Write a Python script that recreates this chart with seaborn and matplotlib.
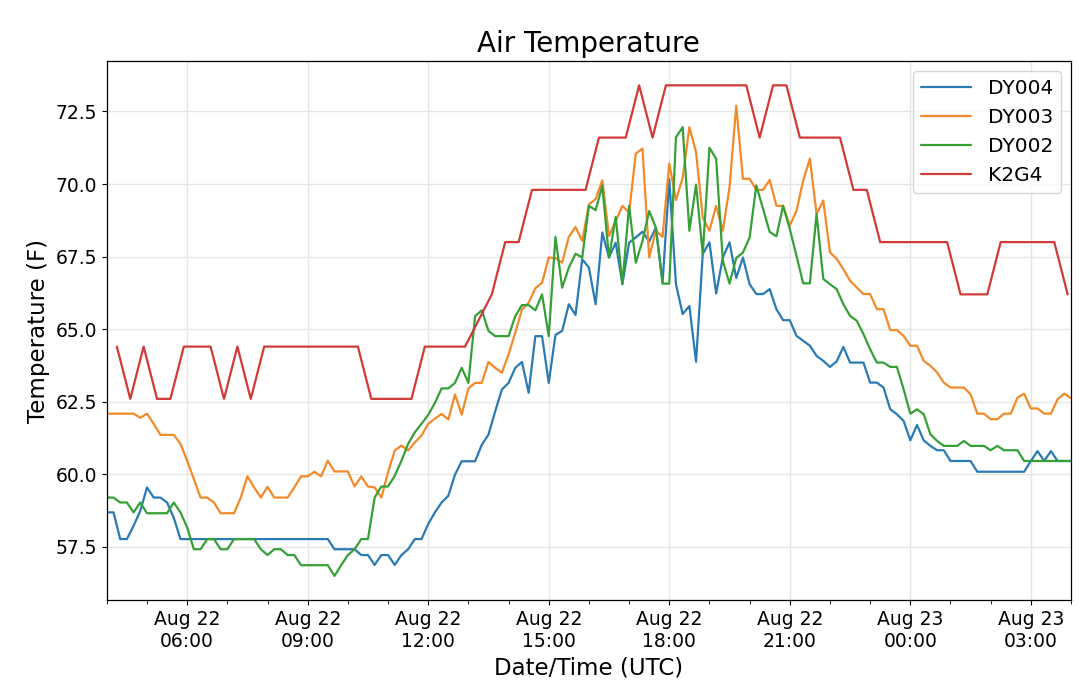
import pandas as pd
import matplotlib
matplotlib.use("Agg")
import matplotlib.pyplot as plt
import matplotlib.dates as mdates
import seaborn as sns

# Lecturas cada 10 minutos de las estaciones DY (04:00 -> 04:00 del dia siguiente)
dy_start = "2019-08-22 04:00"
dy004 = [58.69, 58.69, 57.77, 57.77, 58.23, 58.74, 59.55, 59.2, 59.2, 59.03, 58.5, 57.77] + [57.77] * 22 + [
    57.42, 57.42, 57.42, 57.42, 57.22, 57.22, 56.88, 57.22, 57.22, 56.88, 57.22, 57.42, 57.77, 57.77,
    58.29, 58.69, 59.03, 59.26, 59.99, 60.45, 60.45, 60.45, 61.02, 61.37, 62.17, 62.92, 63.15, 63.67,
    63.87, 62.81, 64.76, 64.76, 63.15, 64.8, 64.94, 65.86, 65.49, 67.41, 67.12, 65.86, 68.33, 67.47,
    67.98, 66.55, 67.98, 68.16, 68.36, 68.02, 68.5, 66.6, 70.17, 66.55, 65.52, 65.8, 63.88, 67.59,
    67.99, 66.23, 67.47, 67.99, 66.76, 67.47, 66.55, 66.21, 66.21, 66.38, 65.69, 65.31, 65.31, 64.77,
    64.6, 64.43, 64.08, 63.91, 63.7, 63.89, 64.39, 63.85, 63.85, 63.85, 63.16, 63.16, 62.99, 62.24,
    62.07, 61.84, 61.17, 61.7, 61.17, 60.98, 60.83, 60.83, 60.46, 60.46, 60.46, 60.46] + [60.09] * 8 + [
    60.46, 60.8, 60.46, 60.8, 60.46, 60.46, 60.46]
dy003 = [62.09, 62.09, 62.09, 62.09, 62.09, 61.95, 62.09, 61.74, 61.36, 61.36, 61.36, 61.05, 60.47,
         59.84, 59.2, 59.2, 59.03, 58.66, 58.66, 58.66, 59.2, 59.93, 59.55, 59.2, 59.57, 59.2, 59.2,
         59.2, 59.55, 59.93, 59.93, 60.09, 59.93, 60.47, 60.1, 60.1, 60.1, 59.58, 59.93, 59.58, 59.55,
         59.2, 60.07, 60.82, 60.99, 60.82, 61.1, 61.34, 61.74, 61.92, 62.08, 61.89, 62.75, 62.06, 62.96,
         63.15, 63.15, 63.87, 63.67, 63.5, 64.13, 64.88, 65.68, 65.91, 66.41, 66.6, 67.47, 67.45, 67.29,
         68.18, 68.52, 68.04, 69.3, 69.48, 70.13, 68.21, 68.72, 69.25, 69.02, 71.05, 71.22, 67.47, 68.39,
         68.18, 70.71, 69.45, 70.21, 71.96, 71.1, 68.85, 68.39, 69.25, 68.39, 69.89, 72.7, 70.18, 70.18,
         69.8, 69.8, 70.14, 69.25, 69.25, 68.57, 69.08, 70.12, 70.87, 68.97, 69.43, 67.65, 67.42, 67.07,
         66.67, 66.44, 66.21, 66.21, 65.69, 65.69, 64.97, 64.97, 64.77, 64.43, 64.43, 63.91, 63.74, 63.51,
         63.16, 62.99, 62.99, 62.99, 62.76, 62.09, 62.09, 61.9, 61.9, 62.09, 62.09, 62.64, 62.78, 62.27,
         62.27, 62.09, 62.09, 62.59, 62.78, 62.62]
dy002 = [59.2, 59.2, 59.03, 59.03, 58.69, 59.03, 58.66, 58.66, 58.66, 58.66, 59.03, 58.69, 58.17,
         57.42, 57.42, 57.77, 57.77, 57.42, 57.42, 57.77, 57.77, 57.77, 57.77, 57.42, 57.22, 57.42,
         57.42, 57.22, 57.22, 56.87, 56.87, 56.87, 56.87, 56.87, 56.5, 56.87, 57.22, 57.42, 57.77,
         57.77, 59.2, 59.58, 59.58, 59.95, 60.47, 61.05, 61.45, 61.74, 62.05, 62.46, 62.96, 62.96,
         63.15, 63.67, 63.15, 65.45, 65.65, 64.94, 64.76, 64.76, 64.76, 65.45, 65.83, 65.83, 65.65,
         66.2, 64.76, 68.18, 66.43, 67.12, 67.6, 67.47, 69.25, 69.1, 69.94, 67.47, 68.87, 66.57, 69.25,
         67.29, 68.04, 69.07, 68.5, 66.57, 66.57, 71.61, 71.96, 68.39, 69.98, 67.59, 71.25, 70.87,
         67.36, 66.57, 67.45, 67.64, 68.16, 69.95, 69.15, 68.35, 68.2, 69.25, 68.45, 67.53, 66.58,
         66.58, 68.97, 66.73, 66.55, 66.38, 65.86, 65.46, 65.29, 64.83, 64.31, 63.85, 63.85, 63.7,
         63.7, 62.93, 62.09, 62.24, 62.07, 61.38, 61.15, 60.98, 60.98, 60.98, 61.15, 60.98, 60.98,
         60.98, 60.83, 60.98, 60.83, 60.83, 60.83] + [60.46] * 8

# K2G4: observaciones cada 20 minutos (:15, :35, :55), falta la de las 13:15
k2g4_times = [t for t in pd.date_range("2019-08-22 04:15", periods=72, freq="20min")
              if t != pd.Timestamp("2019-08-22 13:15")]
k2g4 = [64.4, 62.6, 64.4, 62.6, 62.6, 64.4, 64.4, 64.4, 62.6, 64.4, 62.6] + [64.4] * 8 + [62.6] * 4 + \
       [64.4] * 4 + [66.2, 68.0, 68.0] + [69.8] * 5 + [71.6] * 3 + [73.4, 71.6] + [73.4] * 7 + \
       [71.6, 73.4, 73.4] + [71.6] * 4 + [69.8, 69.8] + [68.0] * 6 + [66.2] * 3 + [68.0] * 5 + [66.2]

dy_times = pd.date_range(dy_start, periods=len(dy004), freq="10min")

df = pd.concat([
    pd.DataFrame({"time": dy_times, "temp": dy004, "station": "DY004"}),
    pd.DataFrame({"time": dy_times, "temp": dy003, "station": "DY003"}),
    pd.DataFrame({"time": dy_times, "temp": dy002, "station": "DY002"}),
    pd.DataFrame({"time": k2g4_times, "temp": k2g4, "station": "K2G4"}),
])

sns.set_style("ticks")
plt.rcParams["font.family"] = ["DejaVu Sans"]
plt.rcParams["text.color"] = "black"
plt.rcParams["axes.labelcolor"] = "black"
plt.rcParams["xtick.color"] = "black"
plt.rcParams["ytick.color"] = "black"

fig = plt.figure(figsize=(10.79, 6.91), dpi=100)
ax = fig.add_axes([0.099, 0.131, 0.8936, 0.781])
sns.lineplot(data=df, x="time", y="temp", hue="station", estimator=None,
             palette=["#2a7ab4", "#f28a2a", "#36a037", "#d03a37"], linewidth=1.6, ax=ax)

ax.grid(True, color="#e6e6e6", linewidth=1)
for s in ax.spines.values():
    s.set_color("black")
    s.set_linewidth(0.9)

ax.set_xlim(dy_times[0], dy_times[-1])
ax.margins(y=0.05)
ax.set_yticks([57.5, 60.0, 62.5, 65.0, 67.5, 70.0, 72.5])
ax.xaxis.set_major_locator(mdates.HourLocator(byhour=range(0, 24, 3)))
ax.xaxis.set_major_formatter(mdates.DateFormatter("%b %d\n%H:%M"))
ax.xaxis.set_minor_locator(mdates.HourLocator())
ax.tick_params(axis="both", which="major", labelsize=13.5, length=3.5, color="black", labelcolor="black")
ax.tick_params(axis="x", which="minor", length=3, color="black")

ax.set_title("Air Temperature", fontsize=20, color="black")
ax.set_xlabel("Date/Time (UTC)", fontsize=16.5, color="black")
ax.set_ylabel("Temperature (F)", fontsize=16.5, color="black")

handles, labels = ax.get_legend_handles_labels()
leg = ax.legend(handles, labels, loc="upper right", fontsize=14.5, handlelength=2.5, framealpha=0.8)
for t in leg.get_texts():
    t.set_color("black")

fig.savefig("out.png", dpi=100)
